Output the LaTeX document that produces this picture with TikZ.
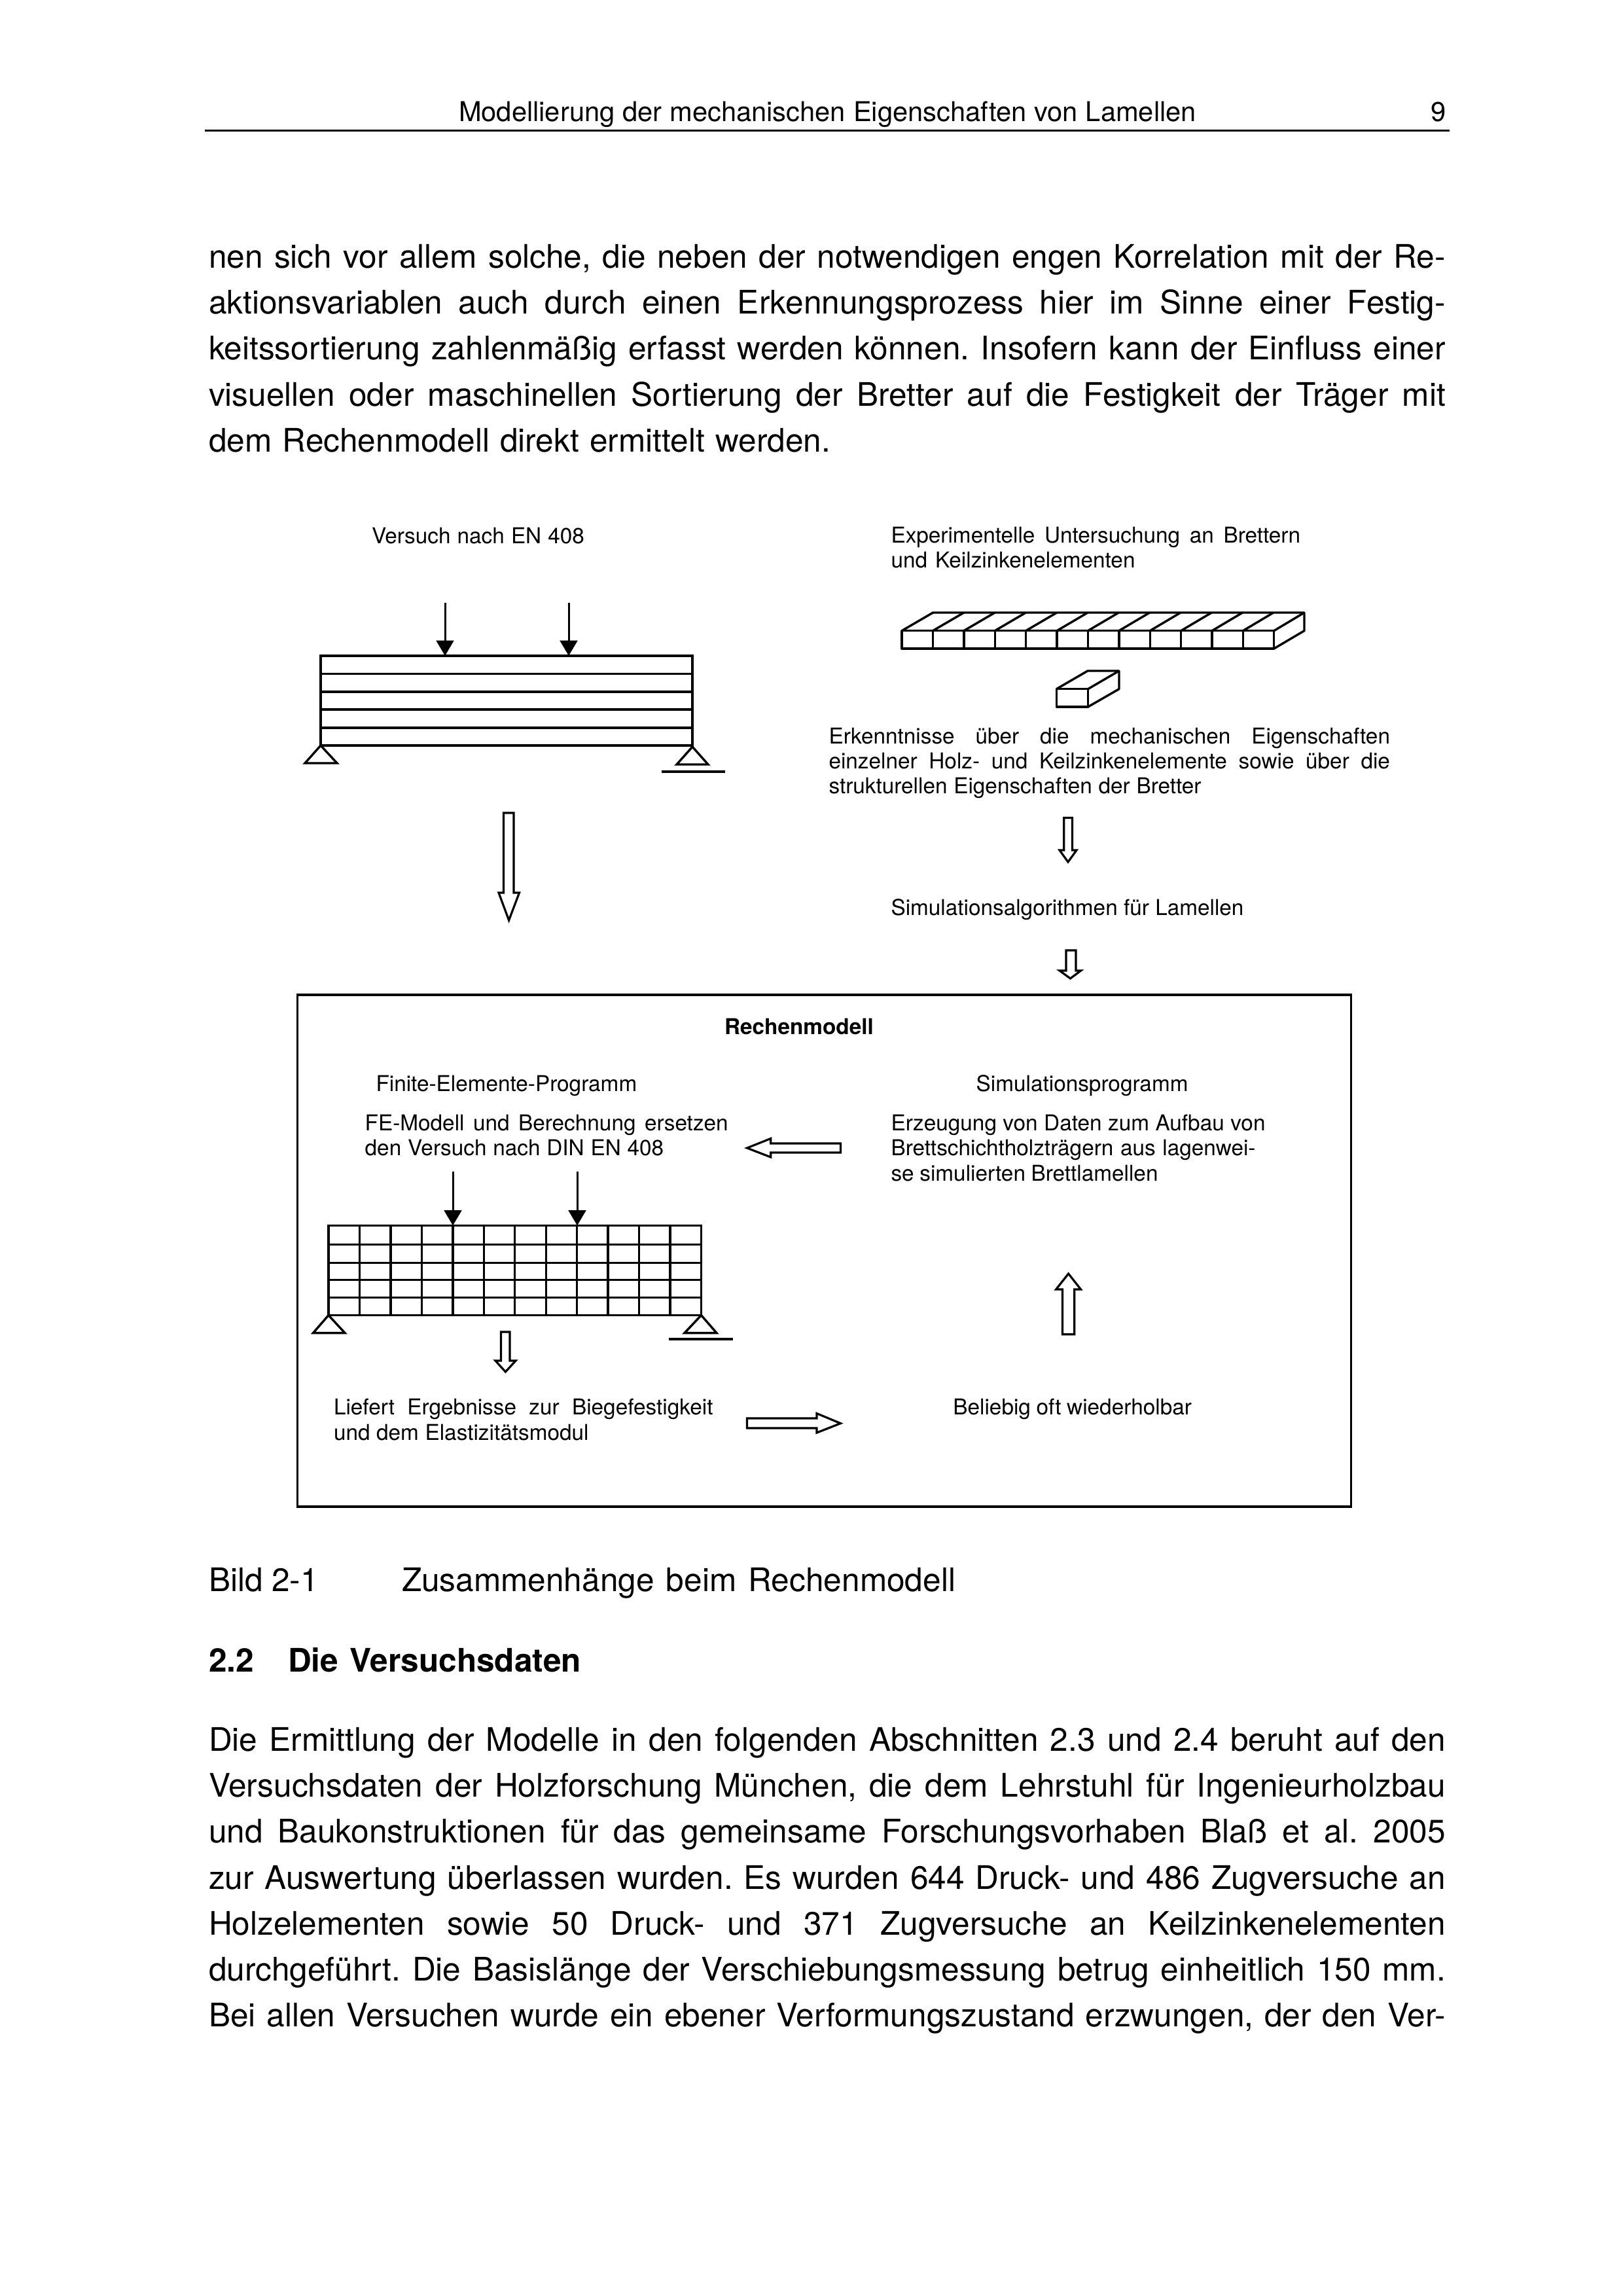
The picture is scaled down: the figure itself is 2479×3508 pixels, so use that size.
\documentclass[tikz,border=0pt]{standalone}
\usepackage{fontspec}
\setmainfont{TeX Gyre Heros}
\usetikzlibrary{arrows.meta}
\newlength\pxu
\setlength\pxu{0.24pt}
\frenchspacing
\tikzset{
  bodytxt/.style={anchor=base west,inner sep=0pt,outer sep=0pt,font=\frenchspacing\fontsize{11.9pt}{14pt}\selectfont},
  headtxt/.style={anchor=base west,inner sep=0pt,outer sep=0pt,font=\frenchspacing\fontsize{10pt}{13pt}\selectfont},
  dgtxt/.style={anchor=base west,inner sep=0pt,outer sep=0pt,font=\frenchspacing\fontsize{8pt}{10pt}\selectfont},
  ln/.style={line width=0.82pt,line join=miter},
  thinln/.style={line width=0.62pt},
  blockarrow/.style={line width=0.77pt,line join=miter,fill=white},
  force/.style={line width=0.72pt,-{Triangle[length=5.6pt,width=6.4pt]}},
}
\newcommand{\bl}[5]{\node[bodytxt] (#1) at (#2,#3) {\makebox[#4\pxu][s]{#5}};}
\newcommand{\dl}[5]{\node[dgtxt] (#1) at (#2,#3) {\makebox[#4\pxu][s]{#5}};}
\begin{document}
\begin{tikzpicture}[x=\pxu,y=-\pxu]
\useasboundingbox (0,0) rectangle (2479,3508);
\fill[white] (0,0) rectangle (2479,3508);
% header
\node[headtxt] (hd) at (701,186) {\makebox[1127\pxu][s]{Modellierung der mechanischen Eigenschaften von Lamellen}};
\node[headtxt] (pg) at (2186,186) {9};
\draw[thinln] (313,199.5) -- (2215,199.5);
% paragraph 1
\bl{pa}{319}{409.5}{1890}{nen sich vor allem solche, die neben der notwendigen engen Korrelation mit der Re-}
\bl{pb}{319}{479.7}{1890}{aktionsvariablen auch durch einen Erkennungsprozess hier im Sinne einer Festig-}
\bl{pc}{319}{550}{1890}{keitssortierung zahlenmäßig erfasst werden können. Insofern kann der Einfluss einer}
\bl{pd}{319}{620.2}{1890}{visuellen oder maschinellen Sortierung der Bretter auf die Festigkeit der Träger mit}
\bl{pe}{319}{690.5}{950}{dem Rechenmodell direkt ermittelt werden.}
% left test
\dl{vs}{568}{830.5}{325}{Versuch nach EN 408}
\coordinate (f1s) at (680,921); \coordinate (f1e) at (680,1002);
\coordinate (f2s) at (869,921); \coordinate (f2e) at (869,1002);
\draw[force] (f1s) -- (f1e);
\draw[force] (f2s) -- (f2e);
\draw[ln] (490,1002) rectangle (1058,1139);
\foreach \yy in {1029.6,1057,1084,1112} \draw[ln] (490,\yy) -- (1058,\yy);
\draw[ln] (490,1139) -- (515,1166) -- (466,1166) -- cycle;
\draw[ln] (1058,1141) -- (1082,1168) -- (1034,1168) -- cycle;
\draw[ln] (1011,1179) -- (1108,1179);
\draw[blockarrow] (769.5,1242) -- (785,1242) -- (785,1364) -- (793.5,1364) -- (777.6,1406) -- (762,1364) -- (769.5,1364) -- cycle;
% right test
\dl{ea}{1361.5}{830}{625.5}{Experimentelle Untersuchung an Brettern}
\dl{eb}{1361.5}{868}{373}{und Keilzinkenelementen}
% board
\draw[ln,line join=round] (1378,963.7) rectangle (1946.7,991);
\draw[ln,line join=round] (1378,963.7) -- (1425.6,936) -- (1993,936) -- (1993,963.7) -- (1946.7,991);
\draw[ln] (1946.7,963.7) -- (1993,936);
\foreach \i in {1,...,11} {
  \draw[ln] ({1378+47.4*\i},963.7) -- ({1378+47.4*\i},991);
  \draw[ln] ({1378+47.4*\i},963.7) -- ({1425.6+47.3*\i},936);
}
% block
\draw[ln,line join=round] (1614.3,1052.7) rectangle (1662.5,1080);
\draw[ln,line join=round] (1614.3,1052.7) -- (1662,1025) -- (1710,1025) -- (1710,1052.7) -- (1662.5,1080);
\draw[ln] (1662.5,1052.7) -- (1710,1025);
\dl{ka}{1266.5}{1136.5}{857.5}{Erkenntnisse über die mechanischen Eigenschaften}
\dl{kb}{1266.5}{1174.5}{857.5}{einzelner Holz- und Keilzinkenelemente sowie über die}
\dl{kc}{1266.5}{1212}{569}{strukturellen Eigenschaften der Bretter}
\draw[blockarrow] (1625.8,1249.4) -- (1638.4,1249.4) -- (1638.4,1299) -- (1645,1299) -- (1632,1317) -- (1619,1299) -- (1625.8,1299) -- cycle;
\dl{sa}{1361.5}{1398}{539}{Simulationsalgorithmen für Lamellen}
\draw[blockarrow] (1629,1452) -- (1644,1452) -- (1644,1483) -- (1651.6,1483) -- (1635.5,1495) -- (1619,1483) -- (1629,1483) -- cycle;
% model box
\draw[ln] (454.4,1520) rectangle (2064.5,2302);
\node[dgtxt,font=\fontsize{8pt}{10pt}\selectfont\bfseries] (rm) at (1107,1580) {\makebox[224\pxu][s]{Rechenmodell}};
\dl{fe}{574.5}{1667}{399}{Finite-Elemente-Programm}
\dl{sp}{1491.7}{1667}{322}{Simulationsprogramm}
\dl{fa}{557.7}{1727.5}{555}{FE-Modell und Berechnung ersetzen}
\dl{fb}{557.7}{1765.7}{456.5}{den Versuch nach DIN EN 408}
\dl{ga}{1361.5}{1727.5}{572}{Erzeugung von Daten zum Aufbau von}
\dl{gb}{1361.5}{1765.7}{557}{Brettschichtholzträgern aus lagenwei-}
\dl{gc}{1361.5}{1804}{408}{se simulierten Brettlamellen}
% FE beam
\coordinate (f3s) at (692,1790); \coordinate (f3e) at (692,1872.5);
\coordinate (f4s) at (882,1790); \coordinate (f4e) at (882,1872.5);
\draw[force] (f3s) -- (f3e);
\draw[force] (f4s) -- (f4e);
\draw[ln] (502,1872.5) rectangle (1071.5,2009.5);
\foreach \yy in {1901.5,1929.5,1955.5,1982.5} \draw[ln] (502,\yy) -- (1071.5,\yy);
\foreach \i in {1,...,11} \draw[ln] ({502+47.46*\i},1872.5) -- ({502+47.46*\i},2009.5);
\draw[ln] (502,2009.5) -- (527,2036.6) -- (478.5,2036.6) -- cycle;
\draw[ln] (1071.5,2009.5) -- (1095,2036.6) -- (1046,2036.6) -- cycle;
\draw[ln] (1022,2046) -- (1120,2046);
\draw[blockarrow] (765.5,2035) -- (779,2035) -- (779,2079) -- (788,2079) -- (772.4,2096) -- (757,2079) -- (765.5,2079) -- cycle;
\dl{la}{510}{2161.6}{579.5}{Liefert Ergebnisse zur Biegefestigkeit}
\dl{lb}{510}{2200}{389.5}{und dem Elastizitätsmodul}
\dl{bo}{1456.4}{2161.6}{364.6}{Beliebig oft wiederholbar}
\draw[blockarrow] (1284.4,1747) -- (1177.7,1747) -- (1177.7,1739.5) -- (1141.5,1754) -- (1177.7,1768) -- (1177.7,1761) -- (1284.4,1761) -- cycle;
\draw[blockarrow] (1141.5,2167) -- (1248,2167) -- (1248,2159.5) -- (1284.4,2174.7) -- (1248,2189) -- (1248,2182) -- (1141.5,2182) -- cycle;
\draw[blockarrow] (1623.4,2038.7) -- (1641.7,2038.7) -- (1641.7,1970) -- (1651.5,1970) -- (1632.6,1946) -- (1613.6,1970) -- (1623.4,1970) -- cycle;
% caption
\bl{cap}{319}{2431}{168}{Bild 2-1}
\bl{capb}{614}{2431}{846}{Zusammenhänge beim Rechenmodell}
\node[bodytxt,font=\fontsize{11.9pt}{14pt}\selectfont\bfseries] (hn) at (319,2554) {2.2};
\node[bodytxt,font=\fontsize{11.9pt}{14pt}\selectfont\bfseries] (ht) at (440,2554) {\makebox[448\pxu][s]{Die Versuchsdaten}};
% paragraph 2
\bl{qa}{319}{2675}{1890}{Die Ermittlung der Modelle in den folgenden Abschnitten 2.3 und 2.4 beruht auf den}
\bl{qb}{319}{2745.3}{1890}{Versuchsdaten der Holzforschung München, die dem Lehrstuhl für Ingenieurholzbau}
\bl{qc}{319}{2815.6}{1890}{und Baukonstruktionen für das gemeinsame Forschungsvorhaben Blaß et al. 2005}
\bl{qd}{319}{2886}{1890}{zur Auswertung überlassen wurden. Es wurden 644 Druck- und 486 Zugversuche an}
\bl{qe}{319}{2956.2}{1890}{Holzelementen sowie 50 Druck- und 371 Zugversuche an Keilzinkenelementen}
\bl{qf}{319}{3026.5}{1890}{durchgeführt. Die Basislänge der Verschiebungsmessung betrug einheitlich 150 mm.}
\bl{qg}{319}{3096.8}{1890}{Bei allen Versuchen wurde ein ebener Verformungszustand erzwungen, der den Ver-}
\end{tikzpicture}
\end{document}
